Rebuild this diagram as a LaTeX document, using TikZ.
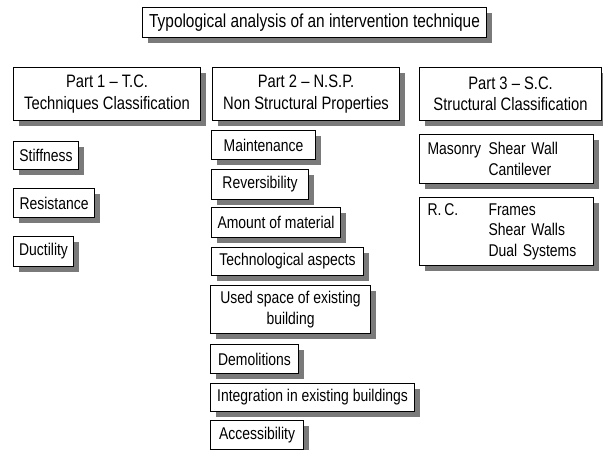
\documentclass[tikz,border=0pt]{standalone}
\usepackage{fontspec}
\setmainfont{Liberation Sans}[FakeStretch=0.82]
\usetikzlibrary{shadows}
\definecolor{shadowgray}{HTML}{7A7A7A}
\begin{document}
\begin{tikzpicture}[x=1pt,y=-1pt,
  box/.style={draw=black, line width=1.1pt, fill=white, inner sep=0pt,
    anchor=north west, align=center,
    font=\fontsize{17}{20.5}\selectfont,
    general shadow={fill=shadowgray, shadow xshift=5pt, shadow yshift=-5pt}},
  headbox/.style={box, font=\fontsize{18}{21.5}\selectfont},
  titlebox/.style={box, font=\fontsize{18.8}{22}\selectfont},
  listbox/.style={box, align=left, inner xsep=8pt}]
  \useasboundingbox (0,0) rectangle (603,450);

  % title
  \node[titlebox, minimum width=344pt, minimum height=30pt] (title) at (142,7)
    {Typological analysis of an intervention technique};

  % three parts
  \node[headbox, minimum width=187pt, minimum height=53pt] (p1) at (13,67)
    {Part 1 -- T.C.\\Techniques Classification};
  \node[headbox, minimum width=187pt, minimum height=53pt] (p2) at (212,67)
    {Part 2 -- N.S.P.\\Non Structural Properties};
  \node[headbox, minimum width=182pt, minimum height=53pt] (p3) at (419,67)
    {Part 3 -- S.C.\\Structural Classification};

  % part 1 items
  \node[box, minimum width=65pt, minimum height=28pt] (stiff) at (13,141) {Stiffness};
  \node[box, minimum width=81pt, minimum height=29pt] (resist) at (13,188) {Resistance};
  \node[box, minimum width=60pt, minimum height=30pt] (duct) at (13,236) {Ductility};

  % part 2 items
  \node[box, minimum width=104pt, minimum height=29pt] (maint) at (211,130) {Maintenance};
  \node[box, minimum width=97pt, minimum height=30pt] (rever) at (211,169) {Reversibility};
  \node[box, minimum width=129pt, minimum height=30pt] (amount) at (211,207) {Amount of material};
  \node[box, minimum width=152pt, minimum height=28pt] (techn) at (211,247) {Technological aspects};
  \node[box, minimum width=160pt, minimum height=48pt] (used) at (210,285) {Used space of existing\\building};
  \node[box, minimum width=88pt, minimum height=29pt] (demol) at (210,344) {Demolitions};
  \node[box, minimum width=204pt, minimum height=28pt] (integ) at (210,383) {Integration in existing buildings};
  \node[box, minimum width=93pt, minimum height=29pt] (access) at (210,420) {Accessibility};

  % part 3 items
  \node[listbox, text width=158pt, minimum height=49pt] (mason) at (419,134)
    {\makebox[61pt][l]{Masonry}Shear Wall\\\makebox[61pt][l]{}Cantilever};
  \node[listbox, text width=158pt, minimum height=68pt] (rc) at (419,197)
    {\makebox[61pt][l]{R.\,C.}Frames\\\makebox[61pt][l]{}Shear Walls\\\makebox[61pt][l]{}Dual Systems};
\end{tikzpicture}
\end{document}
